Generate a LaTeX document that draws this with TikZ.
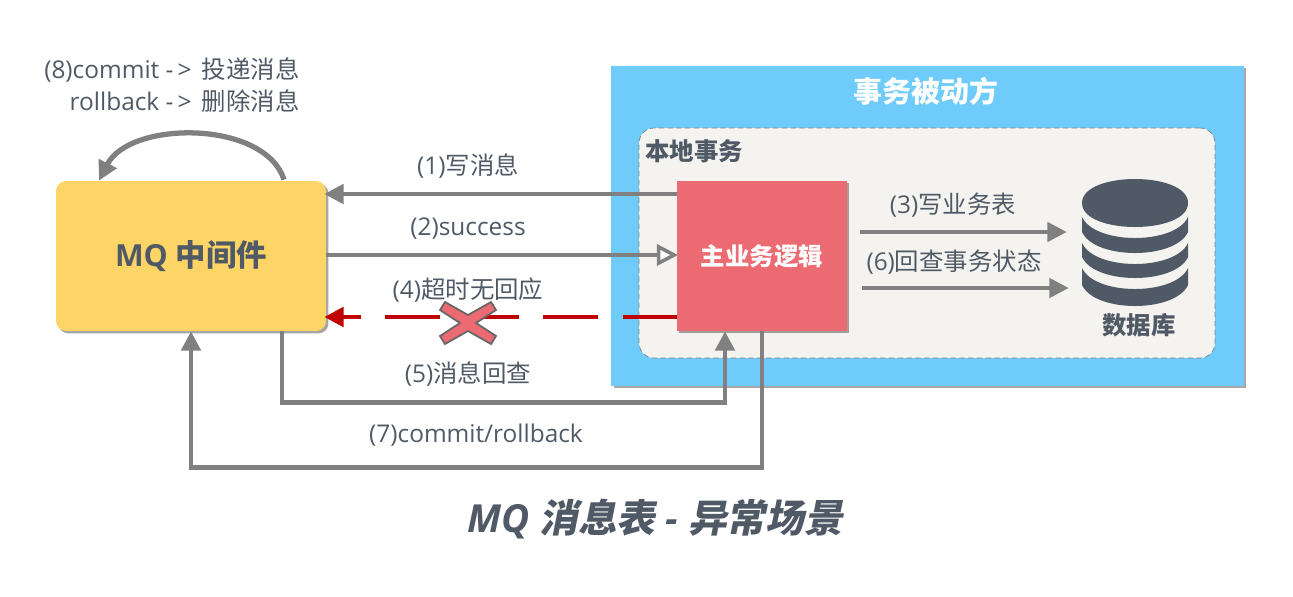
\documentclass[tikz,border=0pt]{standalone}
\usepackage{fontspec}
\usetikzlibrary{arrows.meta,calc,shadows}
\setmainfont{Open Sans}
\newfontfamily\cjk{Noto Sans CJK SC}
\newfontfamily\cjkslant[FakeSlant=0.2]{Noto Sans CJK SC Bold}
\definecolor{slate}{RGB}{80,90,102}
\definecolor{skyblue}{RGB}{111,203,250}
\definecolor{paper}{RGB}{244,243,239}
\definecolor{mqyellow}{RGB}{253,213,102}
\definecolor{bizred}{RGB}{236,107,114}
\definecolor{linegrey}{RGB}{128,128,128}
\definecolor{alarmred}{RGB}{192,0,0}
\tikzset{
  softshadow/.style={general shadow={fill=black,opacity=0.35,shadow xshift=1.4pt,shadow yshift=-1.4pt}},
  outer/.style={fill=skyblue,minimum width=12.66cm,minimum height=6.4cm,softshadow},
  inner/.style={draw=linegrey,densely dashed,line width=0.4pt,fill=paper,rounded corners=0.3cm,minimum width=11.52cm,minimum height=4.6cm},
  mqbox/.style={fill=mqyellow,rounded corners=0.2cm,minimum width=5.4cm,minimum height=3cm,softshadow,text=slate,font=\fontsize{17.3}{20}\selectfont\bfseries},
  bizbox/.style={fill=bizred,minimum width=3.4cm,minimum height=3cm,softshadow,text=white,font=\fontsize{13.9}{16}\selectfont\bfseries},
  lbl/.style={text=slate,inner sep=0pt,font=\fontsize{13.9}{16}\selectfont},
  head/.style={lbl,font=\fontsize{13.9}{16}\selectfont\bfseries},
  arr/.style={-{Triangle[length=11pt,width=11pt]},draw=linegrey,line width=2.5pt},
  thin arr/.style={-{Triangle[length=11pt,width=11pt]},draw=linegrey,line width=2.2pt},
  open arr/.style={-{Triangle[open,fill=white,length=12pt,width=12pt,line width=2pt]},draw=linegrey,line width=2.2pt},
  lost/.style={-{Triangle[length=11pt,width=11pt]},draw=alarmred,line width=2.5pt,dash pattern=on 31pt off 14pt},
  crossmark/.style={draw=black!60,line width=1pt,fill=bizred}
}
\begin{document}
\begin{tikzpicture}[x=0.02cm,y=-0.02cm]
\useasboundingbox (0,0) rectangle (1293,596);
\node[outer] (passive) at (927.5,226) {};
\node[inner] (localtx) at (927,243) {};
\node[head,text=white,font=\fontsize{16.5}{20}\selectfont\bfseries] (passivetxt) at (926,91) {\cjk 事务被动方};
\node[head] (localtxt) at (694,151) {\cjk 本地事务};
\node[mqbox] (mq) at (191,256) {MQ {\cjk 中间件}};
\node[minimum width=2.12cm,minimum height=2.46cm,inner sep=0pt] (db) at (1135,241) {};
% flows between the boxes
\draw[arr] ($(762,194)+(-85,0)$) -- ($(mq.east)+(-2,-62)$);
\draw[open arr] ($(mq.east)+(0,-1)$) -- (678,255) coordinate (mainin);
\draw[lost] (677,317) coordinate (mainout) -- ($(mq.east)+(-2,61)$);
\node[bizbox] (main) at (762,256) {\cjk 主业务逻辑};
\draw[arr] ($(mq.south)+(91,0)$) -- ++(0,71) -| ($(main.south)+(-37,0)$);
\draw[arr] (main.south) -- ++(0,136) -| (mq.south);
\draw[thin arr] ($(main.east)+(13,-24)$) -- ($(db.west)+(-15,-9)$);
\draw[thin arr] ($(main.east)+(15,32)$) -- ($(db.west)+(-13,47)$);
\draw[arr,line width=3pt] ($(mq.north)+(93,-1)$) .. controls (265,120) and (130,120) .. ($(mq.north)+(-92,0)$);
% database icon
\fill[slate] (1082,203) .. controls (1082,171) and (1188,171) .. (1188,203) .. controls (1188,235) and (1082,235) .. (1082,203) -- cycle;
\foreach \ya/\yb in {217/232,243/257,268/285}{
  \fill[slate] (1082,\ya) .. controls (1095,\ya+28) and (1175,\ya+28) .. (1188,\ya) -- (1188,\yb) .. controls (1175,\yb+28) and (1095,\yb+28) .. (1082,\yb) -- cycle;
}
\node[head] (dbtxt) at (1139,325) {\cjk 数据库};
% labels
\node[lbl] (msg1) at (468,166) {(1){\cjk 写消息}};
\node[lbl] (msg2) at (468,229) {(2)success};
\node[lbl] (msg4) at (468,290) {(4){\cjk 超时无回应}};
\node[lbl] (msg5) at (468,374) {(5){\cjk 消息回查}};
\node[lbl] (msg7) at (476,435) {(7)commit/rollback};
\node[lbl] (msg3) at (953,205) {(3){\cjk 写业务表}};
\node[lbl] (msg6) at (954,262) {(6){\cjk 回查事务状态}};
\node[lbl,anchor=east] (msg8a) at (300,70) {(8)commit -\,>\, {\cjk 投递消息}};
\node[lbl,anchor=east] (msg8b) at (300,101) {rollback -\,>\, {\cjk 删除消息}};
% failed delivery mark
\draw[crossmark,shift={(468,323)}] (-28,-13) -- (-23,-21) -- (0,-8) -- (23,-21) -- (28,-13) -- (8,0) -- (28,13) -- (23,21) -- (0,8) -- (-23,21) -- (-28,13) -- (-8,0) -- cycle;
\node[text=slate,inner sep=0pt,font=\fontsize{22}{26}\selectfont\bfseries\itshape] (title) at (655,519) {MQ {\cjkslant 消息表} - {\cjkslant 异常场景}};
\end{tikzpicture}
\end{document}
